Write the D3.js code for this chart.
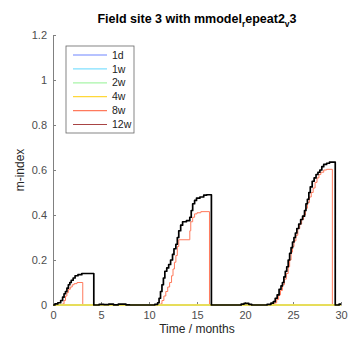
<!DOCTYPE html>
<html>
<head>
<meta charset="utf-8">
<script src="https://cdn.jsdelivr.net/npm/d3@7"></script>
<style>
  body { margin: 0; background: #fff; }
  text { font-family: "Liberation Sans", Arial, sans-serif; }
</style>
</head>
<body>
<div id="root"></div>
<script>
// ——— données
const xTicks = [0, 5, 10, 15, 20, 25, 30];
const yTicks = [0, 0.2, 0.4, 0.6, 0.8, 1, 1.2];
const legendNames = ["1d", "1w", "2w", "4w", "8w", "12w"];
const legendColors = ["#6f86ff", "#80e0ff", "#a8f5a8", "#ffd83a", "#ff7a5c", "#a84444"];

// séries nulles (1d, 1w, 2w, 4w)
const zeroT = [0, 30];
const zeroV = [0, 0];

// 8w (rouge)
const redT = [0, 1.0, 1.15, 1.3, 1.45, 1.6, 1.8, 2.0, 2.2, 2.5, 3.1,
  11.2, 11.35, 11.55, 11.75, 11.95, 12.15, 12.35, 12.5, 12.65, 12.8, 12.95, 13.1, 14.25, 14.35, 14.55, 14.75, 15.0, 15.4, 16.3,
  22.9, 23.1, 23.3, 23.5, 23.7, 23.9, 24.1, 24.3, 24.5, 24.65, 24.8, 24.95, 25.1, 25.3, 25.5, 25.7, 25.9, 26.1, 26.3, 26.5,
  26.7, 26.9, 27.1, 27.3, 27.5, 27.7, 27.9, 28.2, 28.5, 29.1, 30];
const redV = [0, 0.005, 0.02, 0.04, 0.055, 0.07, 0.08, 0.09, 0.095, 0.1, 0,
  0.005, 0.02, 0.04, 0.06, 0.08, 0.1, 0.13, 0.16, 0.19, 0.22, 0.26, 0.29, 0.33, 0.37, 0.39, 0.405, 0.41, 0.415, 0,
  0.003, 0.01, 0.025, 0.045, 0.065, 0.09, 0.115, 0.14, 0.17, 0.2, 0.235, 0.26, 0.285, 0.31, 0.34, 0.36, 0.38, 0.4, 0.43, 0.455,
  0.48, 0.5, 0.52, 0.545, 0.565, 0.58, 0.59, 0.6, 0.603, 0, 0];

// courbe noire
const blackT = [0, 0.2, 0.5, 0.8, 1.0, 1.15, 1.3, 1.45, 1.6, 1.75, 1.9, 2.1, 2.3, 2.6, 3.0, 4.25,
  4.8, 5.3, 5.8, 6.3, 6.8, 7.6, 8.0, 10.6, 10.9, 11.05, 11.2, 11.35, 11.5, 11.65, 11.85, 12.05, 12.25, 12.45, 12.6, 12.8,
  12.95, 13.1, 13.3, 13.5, 13.9, 14.25, 14.4, 14.55, 14.75, 14.95, 15.3, 15.7, 16.0, 16.5,
  19.6, 19.9, 20.4, 20.7, 22.3, 22.7, 22.95, 23.15, 23.35, 23.55, 23.75, 23.9, 24.05, 24.2, 24.35, 24.5, 24.65, 24.8,
  24.95, 25.1, 25.25, 25.4, 25.6, 25.8, 26.0, 26.2, 26.35, 26.5, 26.65, 26.8, 27.0, 27.2, 27.4, 27.6, 27.8, 28.0,
  28.2, 28.5, 28.8, 29.4, 29.8, 30];
const blackV = [0, 0.005, 0.01, 0.02, 0.035, 0.05, 0.06, 0.075, 0.09, 0.1, 0.11, 0.12, 0.13, 0.135, 0.14, 0,
  0.003, 0.002, 0.004, 0.001, 0.004, 0.001, 0, 0.003, 0.01, 0.03, 0.06, 0.09, 0.12, 0.15, 0.165, 0.18, 0.2, 0.225, 0.25, 0.27,
  0.3, 0.33, 0.355, 0.37, 0.375, 0.39, 0.42, 0.45, 0.465, 0.475, 0.48, 0.488, 0.49, 0,
  0.004, 0.007, 0.003, 0, 0.003, 0.008, 0.015, 0.03, 0.045, 0.07, 0.085, 0.1, 0.125, 0.15, 0.17, 0.2, 0.23, 0.255,
  0.28, 0.3, 0.32, 0.34, 0.36, 0.38, 0.395, 0.42, 0.45, 0.47, 0.5, 0.525, 0.55, 0.565, 0.58, 0.59, 0.6, 0.615,
  0.625, 0.63, 0.635, 0, 0.004, 0.004];

// ——— rendu
const width = 354, height = 340;
const margin = { top: 35, right: 13, bottom: 35, left: 53 };
const innerW = width - margin.left - margin.right;
const innerH = height - margin.top - margin.bottom;

const svg = d3.select("#root").append("svg")
  .attr("width", width).attr("height", height);

const g = svg.append("g").attr("transform", `translate(${margin.left},${margin.top})`);

const x = d3.scaleLinear().domain([0, 30]).range([0, innerW]);
const y = d3.scaleLinear().domain([0, 1.2]).range([innerH, 0]);

const axisColor = "#808080";
const tickColor = "#4d4d4d";

// axes (ticks vers l'intérieur, façon MATLAB)
const xAxis = g.append("g")
  .attr("transform", `translate(0,${innerH})`)
  .call(d3.axisBottom(x).tickValues(xTicks).tickSize(-3).tickPadding(6).tickSizeOuter(0));
const yAxis = g.append("g")
  .call(d3.axisLeft(y).tickValues(yTicks).tickSize(-3).tickPadding(6).tickSizeOuter(0)
    .tickFormat(d3.format("~g")));

[xAxis, yAxis].forEach(a => {
  a.select(".domain").attr("stroke", axisColor);
  a.selectAll(".tick line").attr("stroke", axisColor);
  a.selectAll(".tick text").attr("fill", tickColor).style("font-size", "11px");
});

const line = d3.line()
  .x(d => x(d[0]))
  .y(d => y(d[1]))
  .curve(d3.curveStepAfter);

const zip = (t, v) => t.map((d, i) => [d, v[i]]);

// 8w d'abord, puis les séries nulles (jaune au-dessus), puis la courbe noire
g.append("path").datum(zip(redT, redV))
  .attr("fill", "none").attr("stroke", legendColors[4]).attr("stroke-width", 1)
  .attr("d", line);

[0, 1, 2, 3].forEach(i => {
  g.append("path").datum(zip(zeroT, zeroV))
    .attr("fill", "none").attr("stroke", legendColors[i]).attr("stroke-width", 1.3)
    .attr("d", line);
});

g.append("path").datum(zip(blackT, blackV))
  .attr("fill", "none").attr("stroke", "#000").attr("stroke-width", 1.7)
  .attr("stroke-linejoin", "round")
  .attr("d", line);

// légende
const leg = svg.append("g").attr("transform", "translate(66,46)");
leg.append("rect")
  .attr("width", 68).attr("height", 87)
  .attr("fill", "#fff").attr("stroke", "#666").attr("stroke-width", 0.8);
legendNames.forEach((n, i) => {
  const yy = 9 + i * 13.9;
  leg.append("line")
    .attr("x1", 7).attr("x2", 41).attr("y1", yy).attr("y2", yy)
    .attr("stroke", legendColors[i]).attr("stroke-width", 1.2);
  leg.append("text")
    .attr("x", 46).attr("y", yy).attr("dy", "0.35em")
    .style("font-size", "10.5px").attr("fill", "#222")
    .text(n);
});

// titre avec indices
const title = svg.append("text")
  .attr("x", margin.left + innerW / 2).attr("y", 23)
  .attr("text-anchor", "middle")
  .style("font-size", "12.5px").style("font-weight", "bold").attr("fill", "#000");
title.append("tspan").text("Field site 3 with mmodel");
title.append("tspan").attr("dy", 4).style("font-size", "8.5px").text("r");
title.append("tspan").attr("dy", -4).text("epeat2");
title.append("tspan").attr("dy", 4).style("font-size", "8.5px").text("v");
title.append("tspan").attr("dy", -4).text("3");

// libellés des axes
svg.append("text")
  .attr("x", margin.left + innerW / 2).attr("y", 333)
  .attr("text-anchor", "middle")
  .style("font-size", "12px").attr("fill", "#262626")
  .text("Time / months");
svg.append("text")
  .attr("transform", `translate(24,${margin.top + innerH / 2}) rotate(-90)`)
  .attr("text-anchor", "middle")
  .style("font-size", "12px").attr("fill", "#262626")
  .text("m-index");
</script>
</body>
</html>
